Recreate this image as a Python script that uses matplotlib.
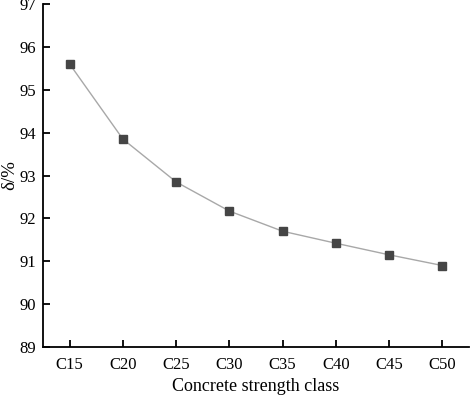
import matplotlib
matplotlib.use('Agg')
import matplotlib.pyplot as plt

# Datos do gráfico
classes = ['C15', 'C20', 'C25', 'C30', 'C35', 'C40', 'C45', 'C50']
delta = [95.6, 93.85, 92.85, 92.17, 91.70, 91.42, 91.15, 90.9]

plt.rcParams['font.family'] = ['Liberation Serif', 'DejaVu Serif']

fig = plt.figure(figsize=(4.7, 3.95), dpi=100)
ax = fig.add_axes([43 / 470, 48 / 395, 426 / 470, 343 / 395])

x = list(range(len(classes)))
ax.plot(x, delta, color='#a8a8a8', linewidth=1.0, marker='s',
        markersize=6, markerfacecolor='#454545', markeredgecolor='#454545')

ax.set_xlim(-0.5, 7.5)
ax.set_ylim(89, 97)
ax.set_xticks(x)
ax.set_xticklabels(classes)
ax.set_yticks(range(89, 98))

ax.spines['top'].set_visible(False)
ax.spines['right'].set_visible(False)
for s in ('left', 'bottom'):
    ax.spines[s].set_linewidth(1.3)

ax.tick_params(direction='in', length=5, width=1.3, labelsize=12)
ax.tick_params(axis='x', pad=7)
ax.tick_params(axis='y', pad=5)
ax.set_xlabel('Concrete strength class', fontsize=13, labelpad=4)
ax.set_ylabel('δ/%', fontsize=13.5, labelpad=1)

fig.savefig('out.png', dpi=100)
